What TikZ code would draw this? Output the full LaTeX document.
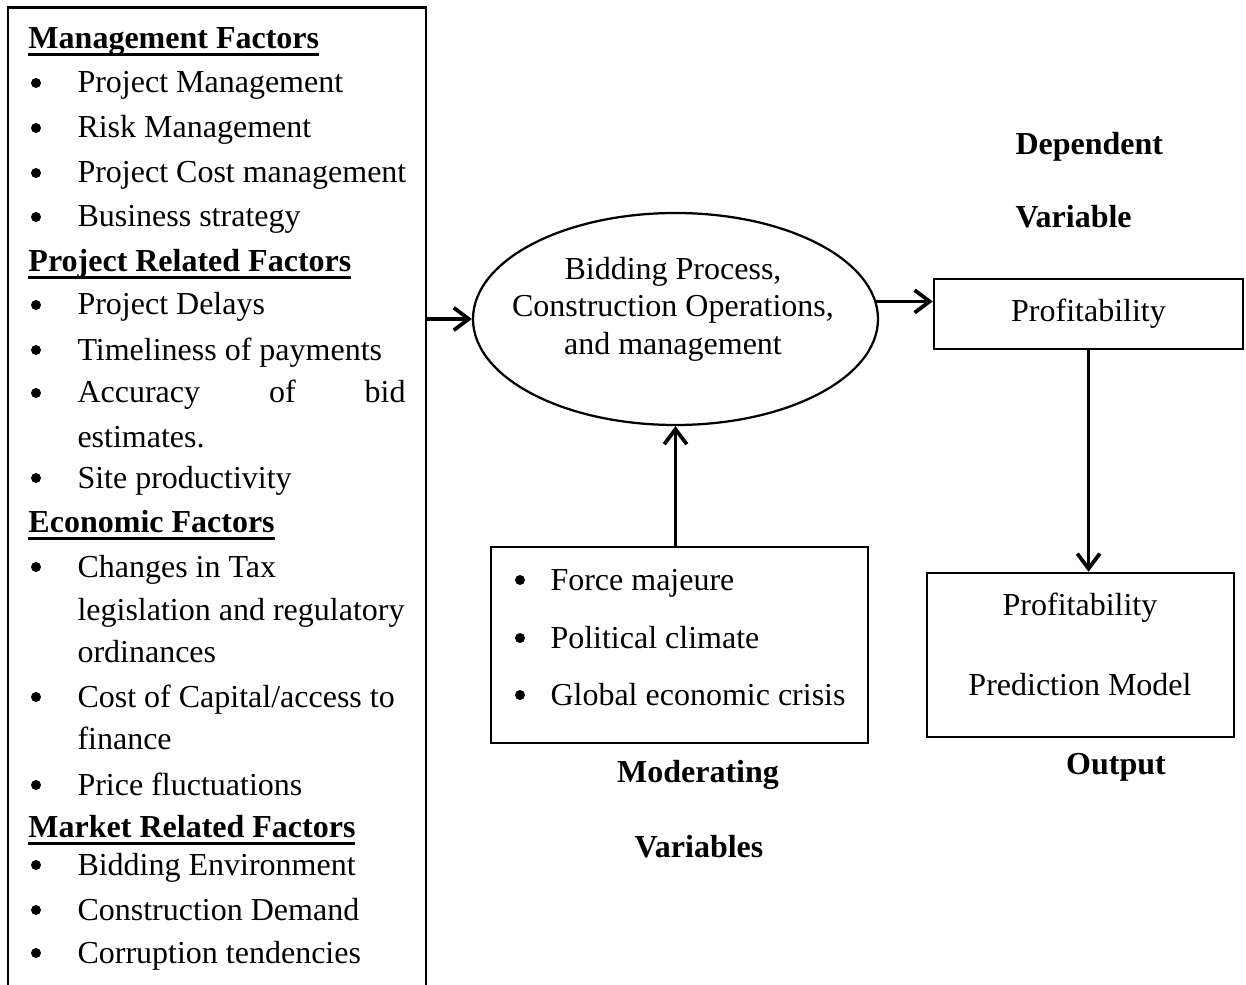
\documentclass[tikz,border=0pt]{standalone}
\usepackage{fontspec}
\setmainfont{Liberation Serif}
\usetikzlibrary{positioning,shapes.geometric,arrows.meta}
\newcommand{\figfont}{\fontsize{12.8}{15}\selectfont}
\newcommand{\headul}[1]{\setbox0\hbox{\textbf{#1}}\rlap{\rule[-3pt]{\wd0}{1.2pt}}\box0}

\begin{document}
\begin{tikzpicture}[x=0.4pt,y=-0.4pt]
   \tikzset{itemtext/.style={anchor=base west, inner sep=0pt, font=\figfont}}
   \tikzset{dot/.style={circle, fill, inner sep=0pt, minimum size=4pt}}
   \tikzset{centertext/.style={anchor=base, inner sep=0pt, font=\figfont}}
   \tikzset{labeltext/.style={anchor=base, inner sep=0pt, font=\figfont\bfseries}}
   \tikzset{boxnode/.style={draw, line width=1pt, rectangle, inner sep=0pt, font=\figfont}}
   \tikzset{line/.style={draw, line width=1.5pt, -{Straight Barb[length=6pt,width=9pt]}}}
   \useasboundingbox (0,0) rectangle (1246,985);

   % factors box, runs off the page at the bottom
   \node [boxnode, minimum width=167.2pt, minimum height=397pt] (factors) at (217,504) {};

   \node [itemtext] (h1) at (28,49) {\headul{Management Factors}};
   \foreach \y/\t [count=\i] in {93/Project Management, 138/Risk Management,
       183/Project Cost management, 227/Business strategy} {
     \node [dot] (mb\i) at (36,\y-10) {};
     \node [itemtext] (m\i) at (77,\y) {\t};
   }

   \node [itemtext] (h2) at (28,272) {\headul{Project Related Factors}};
   \foreach \y/\t [count=\i] in {315/Project Delays, 360/Timeliness of payments,
       403/{}, 488/Site productivity} {
     \node [dot] (pb\i) at (36,\y-10) {};
     \node [itemtext] (p\i) at (77,\y) {\t};
   }
   \node [itemtext, text width=131.2pt] (p3a) at (77,403) {Accuracy\hfill of\hfill bid};
   \node [itemtext] (p3b) at (77,447) {estimates.};

   \node [itemtext] (h3) at (28,532) {\headul{Economic Factors}};
   \foreach \y/\t [count=\i] in {577/{Changes in Tax}, 707/{Cost of Capital/access to},
       795/{Price fluctuations}} {
     \node [dot] (eb\i) at (36,\y-10) {};
     \node [itemtext] (e\i) at (77,\y) {\t};
   }
   \node [itemtext] (e1a) at (77,620) {legislation and regulatory};
   \node [itemtext] (e1b) at (77,662) {ordinances};
   \node [itemtext] (e2a) at (77,749) {finance};

   \node [itemtext] (h4) at (28,837) {\headul{Market Related Factors}};
   \foreach \y/\t [count=\i] in {875/Bidding Environment, 920/Construction Demand,
       963/Corruption tendencies} {
     \node [dot] (kb\i) at (36,\y-10) {};
     \node [itemtext] (k\i) at (77,\y) {\t};
   }

   % process
   \node [draw, ellipse, line width=0.9pt, inner sep=0pt, minimum width=162pt, minimum height=84.8pt] (ell) at (675.5,319) {};
   \node [font=\figfont, align=center, inner sep=0pt] (bid) at (673,309) {Bidding Process,\\Construction Operations,\\and management};

   % dependent variable
   \node [labeltext, anchor=base west] (dep1) at (1015,155) {Dependent};
   \node [labeltext, anchor=base west] (dep2) at (1015,228) {Variable};
   \node [boxnode, minimum width=123.6pt, minimum height=28pt] (prof) at (1088.5,314) {Profitability};

   % output
   \node [boxnode, minimum width=122.8pt, minimum height=65.6pt] (model) at (1080.5,655) {};
   \node [centertext] (model1) at (1080,615) {Profitability};
   \node [centertext] (model2) at (1080,695) {Prediction Model};
   \node [labeltext] (out) at (1116,774) {Output};

   % moderating variables
   \node [boxnode, minimum width=150.8pt, minimum height=78.4pt] (mod) at (679.5,645) {};
   \foreach \y/\t [count=\i] in {590/Force majeure, 648/Political climate, 705/Global economic crisis} {
     \node [dot] (db\i) at (520,\y-10) {};
     \node [itemtext] (d\i) at (550,\y) {\t};
   }
   \node [labeltext] (mod1) at (698,782) {Moderating};
   \node [labeltext] (mod2) at (699,857) {Variables};

   \path [line] (factors.east |- ell.west) -- (ell.west);
   \path [line] (ell.5) -- (ell.5 -| prof.west);
   \path [line] (prof.south) -- (prof.south |- model.north);
   \path [line] (mod.north -| ell.south) -- (ell.south);
\end{tikzpicture}
\end{document}
